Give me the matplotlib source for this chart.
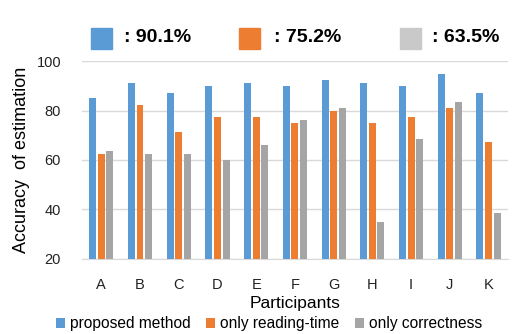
import matplotlib.pyplot as plt
from matplotlib.patches import Rectangle
import numpy as np

plt.rcParams['font.family'] = ['Liberation Sans', 'DejaVu Sans']

participants = ['A', 'B', 'C', 'D', 'E', 'F', 'G', 'H', 'I', 'J', 'K']
proposed = [85, 91, 87.3, 89.8, 91, 89.8, 92.2, 91, 89.8, 94.7, 87.3]
reading_time = [62.3, 82.3, 71.2, 77.4, 77.4, 75, 80, 75, 77.4, 81, 67.4]
correctness = [63.6, 62.3, 62.3, 60, 66, 76, 81, 34.8, 68.6, 83.4, 38.6]
averages = ['90.1%', '75.2%', '63.5%']

series_names = ['proposed method', 'only reading-time', 'only correctness']
colors = ['#5B9BD5', '#ED7D31', '#A5A5A5']
square_colors = ['#5B9BD5', '#ED7D31', '#C9C9C9']

fig = plt.figure(figsize=(5.12, 3.34), dpi=100)
ax = fig.add_axes([0.160, 0.225, 0.832, 0.592])

x = np.arange(len(participants))
w = 0.18
off = 0.222
for i, vals in enumerate([proposed, reading_time, correctness]):
    ax.bar(x + (i - 1) * off, np.array(vals) - 20, w, bottom=20,
           color=colors[i], label=series_names[i], zorder=3)

ax.set_xlim(-0.5, len(participants) - 0.5)
ax.set_ylim(20, 100)
ax.set_yticks([20, 40, 60, 80, 100])
ax.set_xticks(x)
ax.set_xticklabels(participants)
ax.tick_params(length=0, labelsize=10.5, colors='#222222')
ax.tick_params(axis='x', pad=14)
ax.tick_params(axis='y', pad=15)
ax.grid(axis='y', color='#D9D9D9', linewidth=1, zorder=0)
for s in ['top', 'right', 'left']:
    ax.spines[s].set_visible(False)
ax.spines['bottom'].set_color('#D9D9D9')
ax.set_ylabel('Accuracy  of estimation', fontsize=13, labelpad=5)
ax.set_xlabel('Participants', fontsize=12.5, labelpad=3)

fig.legend(loc='lower center', bbox_to_anchor=(0.525, -0.02), ncol=3,
           frameon=False, fontsize=11.2, handlelength=0.6, handleheight=0.6,
           handletextpad=0.3, columnspacing=1.0, borderaxespad=0.2)

# top summary: average accuracy per method
sq_x = [91, 239, 400]
txt_x = [124, 274, 432]
for i in range(3):
    fig.patches.append(Rectangle((sq_x[i] / 512, 1 - 49 / 334), 21 / 512, 21 / 334,
                                 transform=fig.transFigure, color=square_colors[i]))
    fig.text(txt_x[i] / 512, 1 - 37 / 334, ': ' + averages[i], fontsize=14,
             fontweight='bold', va='center', ha='left')

fig.savefig('out.png', dpi=100)
